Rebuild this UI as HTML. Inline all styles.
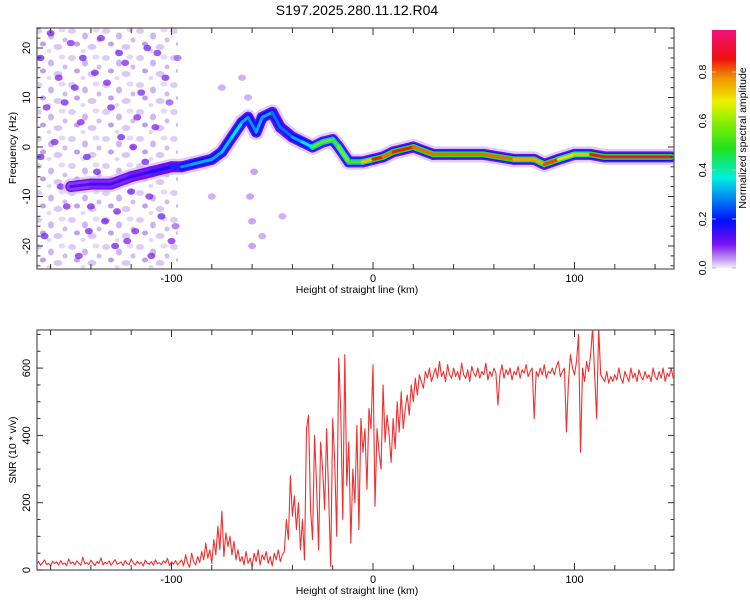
<!DOCTYPE html>
<html><head><meta charset="utf-8"><style>
html,body{margin:0;padding:0;background:#fff;width:750px;height:600px;overflow:hidden}
svg{display:block;font-family:"Liberation Sans",sans-serif}
</style></head><body>
<svg id="fig" width="750" height="600" viewBox="0 0 750 600" xmlns="http://www.w3.org/2000/svg">
<defs>
<linearGradient id="cmap" x1="0" y1="1" x2="0" y2="0">
<stop offset="0" stop-color="#f4eefc"/><stop offset="0.03" stop-color="#c9a8f2"/><stop offset="0.1" stop-color="#7a10f0"/>
<stop offset="0.2" stop-color="#0010ff"/><stop offset="0.3" stop-color="#0090f0"/><stop offset="0.38" stop-color="#00f0e0"/>
<stop offset="0.5" stop-color="#20e020"/><stop offset="0.62" stop-color="#90f000"/><stop offset="0.7" stop-color="#f0f000"/>
<stop offset="0.8" stop-color="#f09000"/><stop offset="0.88" stop-color="#f01010"/><stop offset="1" stop-color="#f0107a"/>
</linearGradient>
<pattern id="noisePat" width="34" height="27" patternUnits="userSpaceOnUse">
<ellipse cx="4" cy="4" rx="4" ry="3" fill="#d9c6f6"/><ellipse cx="17" cy="9" rx="3" ry="3.5" fill="#c9adf2"/>
<ellipse cx="28" cy="3" rx="3.5" ry="2.5" fill="#e2d4f8"/><ellipse cx="9" cy="17" rx="3" ry="2.5" fill="#b894ee"/>
<ellipse cx="24" cy="20" rx="4.5" ry="3" fill="#d6c1f5"/><ellipse cx="31" cy="13" rx="2.5" ry="2.5" fill="#cdb3f3"/>
<ellipse cx="15" cy="24" rx="2.5" ry="2" fill="#e0d0f8"/>
</pattern>
<clipPath id="clipTop"><rect x="37" y="28" width="637" height="241"/></clipPath>
<clipPath id="clipBot"><rect x="37" y="330" width="637" height="240"/></clipPath>
</defs>
<text x="357" y="15" text-anchor="middle" font-size="14" fill="#000">S197.2025.280.11.12.R04</text>
<g id="top"></g>
<g id="bot"></g>
<g id="cbar"></g>
</svg>
<script>
// ---- data ----
const ridgeKm  = [-150,-140,-130,-120,-110,-100,-95,-90,-85,-80,-75,-70,-65,-62,-58,-55,-50,-46,-40,-35,-30,-25,-20,-17,-12,-5,0,5,10,20,30,40,55,70,80,85,92,100,108,115,148];
const ridgeHz  = [-8,-7.5,-7.5,-6,-5,-4,-4,-3.5,-3,-2.5,-1,2,5,6,3,6,7,4,2,1,0,1,1.5,0,-3,-3,-2.5,-2,-1,0,-1.5,-1.5,-1.5,-2.5,-2.5,-3.5,-2.5,-1.5,-1.5,-2,-2];
const ridgeAmp = [0.12,0.15,0.15,0.15,0.17,0.2,0.25,0.35,0.3,0.35,0.3,0.4,0.35,0.3,0.3,0.35,0.3,0.25,0.3,0.35,0.4,0.75,0.4,0.7,0.5,0.6,0.9,0.85,0.8,0.95,0.7,0.95,0.7,0.95,0.6,0.95,0.75,0.7,0.8,0.95,0.95];
const noiseKm  = [-165,-160,-155,-150,-148,-145,-142,-140,-138,-135,-133,-130,-128,-125,-123,-120,-118,-115,-112,-110,-108,-105,-103,-100,-163,-158,-153,-146,-137,-127,-117,-113,-107,-101,-162,-156,-144,-132,-122,-111,-165,-152,-141,-126,-119,-106,-98,-97,-60,-60,-61,-59,-62,-65,-80,-55,-75,-45];
const noiseHz  = [18,23,-8,21,12,5,-2,-12,15,22,-15,8,-20,2,17,-9,-17,11,20,-22,4,-14,14,-19,-18,1,9,-22,-5,-13,6,-3,19,9,8,14,18,13,-19,-10,-2,-12,-17,19,0,-5,-16,18,-20,-15,-10,-5,10,14,-10,-18,12,-14];
const noiseAmp = [0.12,0.1,0.12,0.1,0.12,0.1,0.12,0.1,0.12,0.1,0.12,0.1,0.12,0.12,0.1,0.12,0.1,0.1,0.12,0.1,0.1,0.12,0.1,0.1,0.12,0.1,0.12,0.1,0.12,0.1,0.1,0.12,0.1,0.08,0.1,0.1,0.12,0.1,0.1,0.1,0.12,0.1,0.12,0.12,0.1,0.1,0.07,0.07,0.05,0.05,0.05,0.05,0.04,0.04,0.04,0.04,0.04,0.04];
const snrStartKm = -167;
const snrValues = [18,25,14,22,30,16,20,12,26,19,24,15,28,17,21,13,33,19,24,15,27,20,14,38,18,22,16,29,21,13,25,19,36,15,23,18,27,14,22,31,17,20,24,13,28,19,16,33,21,15,26,18,23,12,29,20,17,25,14,30,19,22,16,27,21,35,13,24,18,28,15,22,
30,12,45,20,8,50,25,15,40,22,
55,30,80,35,60,20,90,45,130,60,175,40,110,70,100,45,85,30,60,25,
40,15,55,20,35,10,50,25,60,15,45,30,55,20,40,12,50,30,60,25,45,55,
150,90,280,
160,220,120,200,60,150,30,420,460,180,90,400,250,60,380,300,180,420,220,10,450,320,100,630,470,150,640,250,380,80,300,200,430,120,450,350,420,240,480,420,
610,190,420,350,300,550,380,460,400,320,450,360,500,410,530,420,480,520,460,550,500,570,520,580,560,540,590,570,600,560,
580,600,570,620,575,590,560,610,580,570,600,575,590,565,615,580,570,595,560,605,585,575,600,570,590,580,615,565,590,575,600,585,490,580,610,570,595,580,600,565,590,580,605,570,595,585,610,575,590,600,450,590,575,600,580,610,570,590,585,600,580,605,620,575,590,600,410,560,640,600,580,620,700,350,600,560,620,590,640,720,580,450,720,580,570,560,590,555,575,560,580,565,600,570,555,590,575,560,600,570,585,560,595,575,565,590,570,580,560,600,575,565,590,570,600,560,585,575,600,570,580];
const xTickLabels = [-100,0,100];
const hzTickLabels = [-20,-10,0,10,20];
const snrTickLabels = [0,200,400,600];
const cbTickLabels = [0.0,0.2,0.4,0.6,0.8];

// ---- scales ----
const X = km => 373 + km*2.015;
const YT = hz => 147 - hz*4.95;
const YB = v => 570 - v*0.3365;
const YC = a => 268 - a*245;
const NS='http://www.w3.org/2000/svg';
function mk(tag, attrs, parent){const e=document.createElementNS(NS,tag);for(const k in attrs)e.setAttribute(k,attrs[k]);parent.appendChild(e);return e;}
const stops=[[0,[244,238,252]],[0.03,[201,168,242]],[0.1,[122,16,240]],[0.2,[0,16,255]],[0.3,[0,144,240]],[0.38,[0,240,224]],[0.5,[32,224,32]],[0.62,[144,240,0]],[0.7,[240,240,0]],[0.8,[240,144,0]],[0.88,[240,16,16]],[1,[240,16,122]]];
function cmap(a){a=Math.max(0,Math.min(1,a));for(let i=1;i<stops.length;i++){if(a<=stops[i][0]){const t=(a-stops[i-1][0])/(stops[i][0]-stops[i-1][0]);const c=stops[i-1][1].map((v,j)=>Math.round(v+(stops[i][1][j]-v)*t));return `rgb(${c.join(',')})`;}}return 'rgb(240,16,122)';}

const topG=document.getElementById('top'), botG=document.getElementById('bot'), cbG=document.getElementById('cbar');

// ---- spectrogram ----
const tg=mk('g',{'clip-path':'url(#clipTop)'},topG);
const bg=mk('rect',{x:X(-167.2),y:28,width:X(-97)-X(-167.2),height:241,fill:'url(#noisePat)',opacity:0.9},tg);


for(let i=0;i<noiseKm.length;i++){
  const c=mk('ellipse',{cx:X(noiseKm[i]),cy:YT(noiseHz[i]),rx:4,ry:3.2,fill:cmap(noiseAmp[i]),opacity:0.7},tg);
  
  
}
const pts=ridgeKm.map((k,i)=>X(k)+','+YT(ridgeHz[i])).join(' ');
const halo=mk('polyline',{points:pts,fill:'none',stroke:'#d2b8f4',"stroke-width":16,"stroke-linejoin":'round',"stroke-linecap":'round',opacity:0.7},tg);


const layers=[[11,0],[8,1],[6,2],[3,3]];
layers.forEach(([w,lv])=>{
  for(let i=0;i<ridgeKm.length-1;i++){
    const avg=(ridgeAmp[i]+ridgeAmp[i+1])/2;
    let aa;
    if(lv===0) aa=Math.min(0.11,avg);
    else if(lv===1) aa=Math.min(0.2,avg*0.6);
    else if(lv===2) aa=Math.min(0.5,avg*0.6);
    else aa=avg;
    const s=mk('line',{x1:X(ridgeKm[i]),y1:YT(ridgeHz[i]),x2:X(ridgeKm[i+1]),y2:YT(ridgeHz[i+1]),stroke:cmap(aa),"stroke-width":w,"stroke-linecap":'round'},tg);
    
    
  }
});

function frame(g,y0,y1,yTicks,yScale,yMinor){
  const r=mk('rect',{x:37,y:y0,width:637,height:y1-y0,fill:'none',stroke:'#555',"stroke-width":1.2},g);
  
  
  for(let k=-160;k<=140;k+=20){
    const big=xTickLabels.includes(k);const L=big?7:5;
    mk('line',{x1:X(k),x2:X(k),y1:y1,y2:y1-L,stroke:'#333'},g);
    mk('line',{x1:X(k),x2:X(k),y1:y0,y2:y0+L,stroke:'#333'},g);
  }
  yMinor.forEach(v=>{const y=yScale(v);const big=yTicks.includes(v);const L=big?6:3.5;
    mk('line',{x1:37,x2:37+L,y1:y,y2:y,stroke:'#333'},g);
    mk('line',{x1:674,x2:674-L,y1:y,y2:y,stroke:'#333'},g);});
  xTickLabels.forEach(k=>{const t=mk('text',{x:X(k),y:y1+13,"text-anchor":'middle',"font-size":11},g);t.textContent=k;
    
    });
  yTicks.forEach(v=>{const y=yScale(v);const t=mk('text',{x:0,y:0,"text-anchor":'middle',"font-size":11,transform:`translate(30,${y}) rotate(-90)`},g);t.textContent=v;
    
    });
  const xl=mk('text',{x:357,y:y1+24,"text-anchor":'middle',"font-size":10.5},g);xl.textContent='Height of straight line (km)';
  
  
}
const hzMinor=[];for(let v=-24;v<=24;v+=2)hzMinor.push(v);
frame(topG,28,269,hzTickLabels,YT,hzMinor);
const yt1=mk('text',{x:0,y:0,"text-anchor":'middle',"font-size":10.5,transform:'translate(16,148) rotate(-90)'},topG);yt1.textContent='Frequency (Hz)';



// ---- SNR ----
const bg2=mk('g',{'clip-path':'url(#clipBot)'},botG);
const sp=snrValues.map((v,i)=>X(snrStartKm+i)+','+YB(v)).join(' ');
const ln=mk('polyline',{points:sp,fill:'none',stroke:'#f03030',"stroke-width":1.1,"stroke-linejoin":'round'},bg2);


const snrMinor=[];for(let v=0;v<=700;v+=50)snrMinor.push(v);
frame(botG,330,570,snrTickLabels,YB,snrMinor);
const yt2=mk('text',{x:0,y:0,"text-anchor":'middle',"font-size":10.5,transform:'translate(16,450) rotate(-90)'},botG);yt2.textContent='SNR (10 * v/v)';



// ---- colorbar ----
const cr=mk('rect',{x:712,y:30,width:24,height:238,fill:'url(#cmap)'},cbG);


cbTickLabels.forEach(v=>{const y=YC(v);
  mk('line',{x1:712,x2:716,y1:y,y2:y,stroke:'#bbb'},cbG);mk('line',{x1:732,x2:736,y1:y,y2:y,stroke:'#bbb'},cbG);
  const t=mk('text',{x:0,y:0,"text-anchor":'middle',"font-size":10.5,transform:`translate(706,${y}) rotate(-90)`},cbG);t.textContent=v.toFixed(1);
  
  });
const ct=mk('text',{x:0,y:0,"text-anchor":'middle',"font-size":10.5,transform:'translate(746,138) rotate(-90)'},cbG);ct.textContent='Normalized spectral amplitude';


</script>
</body></html>
